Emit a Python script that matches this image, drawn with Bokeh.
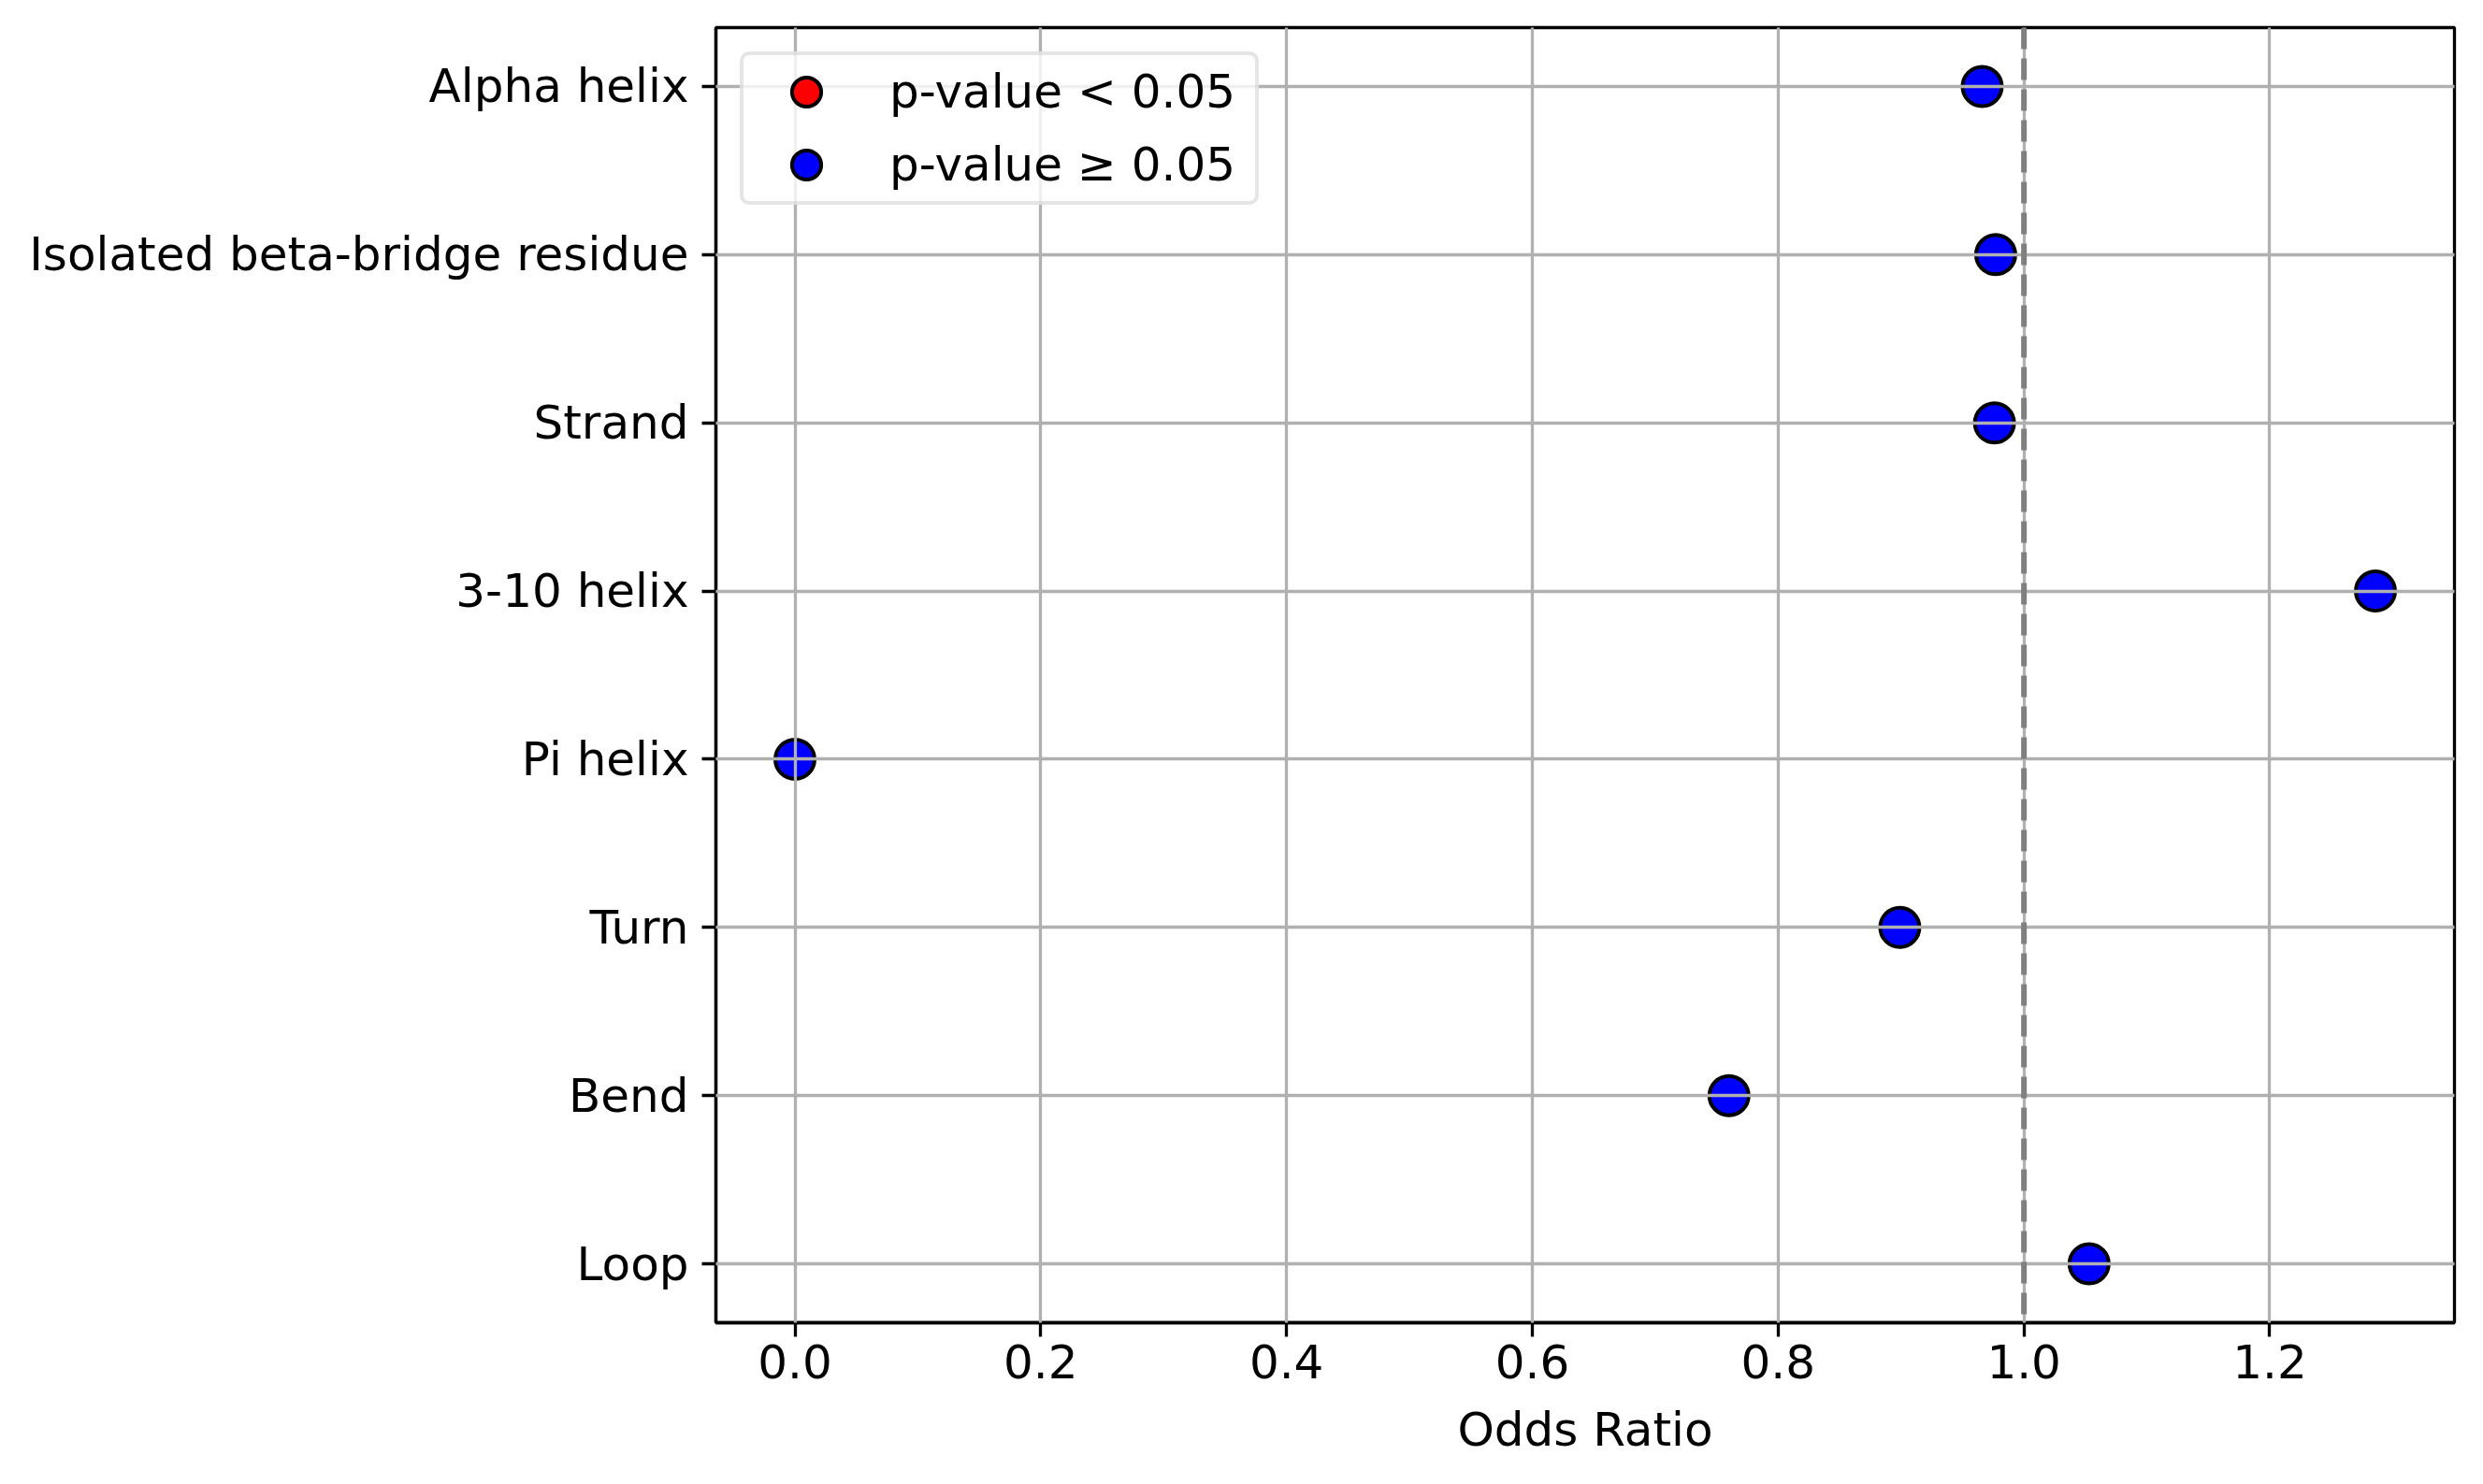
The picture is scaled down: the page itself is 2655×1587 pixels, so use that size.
from bokeh.plotting import figure
from bokeh.models import (Range1d, FixedTicker, Span, Legend, LegendItem,
                          ColumnDataSource, NumeralTickFormatter)
from bokeh.embed import file_html
from bokeh.resources import INLINE

# ---- data ----
categories = ["Alpha helix", "Isolated beta-bridge residue", "Strand", "3-10 helix",
              "Pi helix", "Turn", "Bend", "Loop"]
odds_ratio = [0.966, 0.977, 0.976, 1.286, 0.0, 0.899, 0.760, 1.053]
significant = [False, False, False, False, False, False, False, False]
x_ticks = [0.0, 0.2, 0.4, 0.6, 0.8, 1.0, 1.2]
legend_labels = ["p-value < 0.05", "p-value \u2265 0.05"]

FONT = "DejaVu Sans"
n = len(categories)
ypos = [n - 1 - i for i in range(n)]

lo, hi = min(odds_ratio), max(odds_ratio)
span = hi - lo
x_range = Range1d(lo - 0.05 * span, hi + 0.05 * span)
y_range = Range1d(-0.05 * (n - 1), (n - 1) * 1.05)

p = figure(width=2639, height=1571, x_range=x_range, y_range=y_range,
           output_backend="svg", toolbar_location=None,
           min_border_left=765, min_border_right=15, min_border_top=29,
           min_border_bottom=157)
p.background_fill_color = "white"
p.border_fill_color = "white"
p.outline_line_color = "black"
p.outline_line_width = 3.3

sig_src = ColumnDataSource(dict(x=[v for v, s in zip(odds_ratio, significant) if s],
                                y=[y for y, s in zip(ypos, significant) if s]))
ns_src = ColumnDataSource(dict(x=[v for v, s in zip(odds_ratio, significant) if not s],
                               y=[y for y, s in zip(ypos, significant) if not s]))

sig_style = dict(size=42, fill_color="#ff0000", line_color="black", line_width=4)
ns_style = dict(size=42, fill_color="#0000ff", line_color="black", line_width=4)
p.scatter("x", "y", source=sig_src, **sig_style)
p.scatter("x", "y", source=ns_src, **ns_style)

# legend proxies (no visible data point)
nan = float("nan")
leg_sig = p.scatter(x=[nan], y=[nan], **sig_style)
leg_ns = p.scatter(x=[nan], y=[nan], **ns_style)

vline = Span(location=1.0, dimension="height", line_color="#808080",
             line_width=6, line_dash="23 10")
vline.level = "overlay"
p.add_layout(vline)

# grids (drawn above markers, as in reference)
for g in (p.xgrid, p.ygrid):
    g.grid_line_color = "#b0b0b0"
    g.grid_line_width = 3.3
    g.level = "annotation"

# axes
p.xaxis.ticker = FixedTicker(ticks=x_ticks)
p.xaxis.formatter = NumeralTickFormatter(format="0.0")
p.yaxis.ticker = FixedTicker(ticks=ypos)
p.yaxis.major_label_overrides = {float(y): c for y, c in zip(ypos, categories)}
p.xaxis.axis_label = "Odds Ratio"

for ax in (p.xaxis, p.yaxis):
    ax.axis_line_color = "black"
    ax.axis_line_width = 3.3
    ax.major_tick_line_color = "black"
    ax.major_tick_line_width = 3.3
    ax.major_tick_out = 15
    ax.major_tick_in = 0
    ax.minor_tick_line_color = None
    ax.major_label_text_font = FONT
    ax.major_label_text_font_size = "50px"
    ax.major_label_text_color = "black"
    ax.axis_label_text_font = FONT
    ax.axis_label_text_font_size = "50px"
    ax.axis_label_text_font_style = "normal"
    ax.axis_label_text_color = "black"
p.xaxis.major_label_standoff = 8
p.xaxis.axis_label_standoff = 23
p.yaxis.major_label_standoff = 14

legend = Legend(items=[LegendItem(label=legend_labels[0], renderers=[leg_sig]),
                       LegendItem(label=legend_labels[1], renderers=[leg_ns])],
                location="top_left")
legend.margin = 26
legend.padding = 0
legend.glyph_width = 134
legend.glyph_height = 78
legend.spacing = 0
legend.label_standoff = 22
legend.label_width = 391
legend.label_text_font = FONT
legend.label_text_font_size = "50px"
legend.label_text_color = "black"
legend.border_line_color = "#cccccc"
legend.border_line_width = 4
legend.border_radius = 10
legend.background_fill_color = "white"
legend.background_fill_alpha = 0.8
p.add_layout(legend)

open("out.html", "w").write(file_html(p, INLINE))
